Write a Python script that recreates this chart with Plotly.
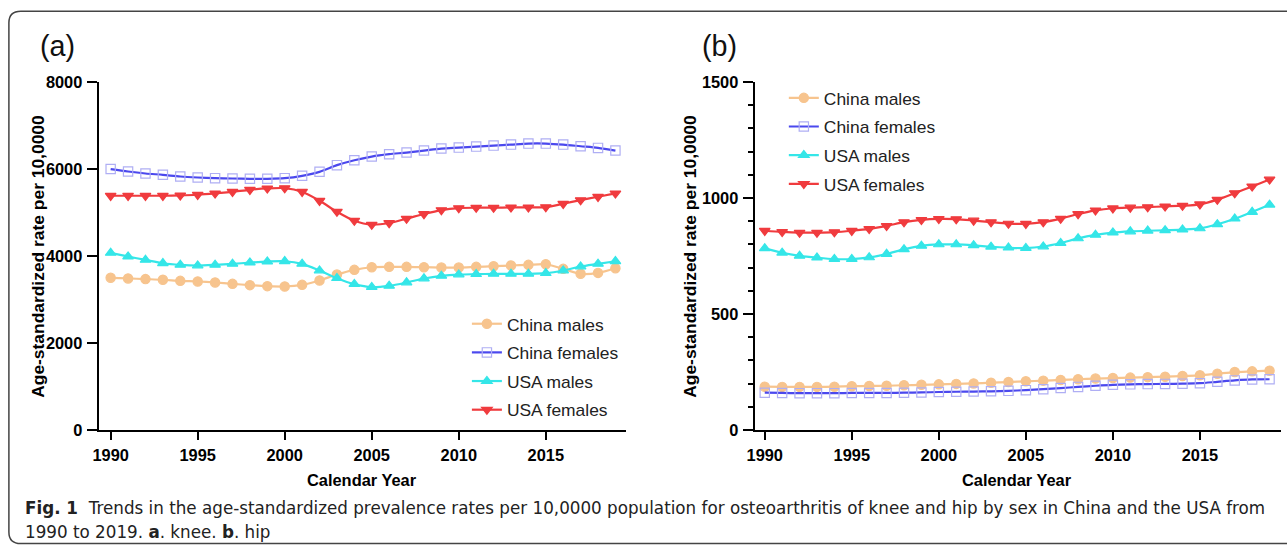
import plotly.graph_objects as go

W, H = 1287, 554
# The photographed page has an 8px body margin and is scaled to the window;
# layout positions below are given in photographed pixels and mapped back.
BODY_M = 8
SX, SY = 1287 / 1303, 554 / 571
FS = 1.025  # font compensation for that scaling

years = list(range(1990, 2020))
series_names = ["China males", "China females", "USA males", "USA females"]

knee_china_males = [3500, 3485, 3470, 3455, 3430, 3415, 3392, 3361, 3331, 3308,
                    3300, 3338, 3438, 3575, 3682, 3743, 3751, 3751, 3743, 3736,
                    3736, 3751, 3766, 3782, 3797, 3812, 3705, 3591, 3613, 3720]
knee_china_females = [6000, 5943, 5898, 5867, 5829, 5806, 5790, 5783, 5775, 5775,
                      5790, 5844, 5936, 6089, 6203, 6287, 6341, 6379, 6425, 6471,
                      6493, 6516, 6539, 6562, 6585, 6585, 6562, 6524, 6486, 6425]
knee_usa_males = [4072, 3988, 3911, 3835, 3797, 3782, 3797, 3820, 3850, 3873,
                  3881, 3820, 3667, 3491, 3354, 3285, 3315, 3392, 3484, 3545,
                  3575, 3583, 3591, 3591, 3591, 3606, 3667, 3759, 3820, 3881]
knee_usa_females = [5386, 5386, 5386, 5386, 5393, 5409, 5439, 5477, 5523, 5554,
                    5561, 5477, 5271, 5019, 4813, 4721, 4759, 4859, 4966, 5057,
                    5103, 5111, 5111, 5118, 5118, 5126, 5202, 5286, 5363, 5439]

hip_china_males = [187, 186, 186, 186, 187, 189, 190, 191, 193, 195,
                   197, 199, 201, 204, 207, 210, 213, 216, 219, 222,
                   224, 226, 228, 230, 233, 236, 243, 250, 253, 256]
hip_china_females = [161, 160, 159, 159, 159, 160, 160, 160, 161, 162,
                     164, 165, 166, 167, 169, 172, 176, 181, 186, 191,
                     195, 197, 198, 199, 200, 202, 208, 214, 218, 219]
hip_usa_males = [783, 764, 751, 743, 737, 737, 744, 759, 779, 794,
                 800, 800, 796, 790, 786, 784, 791, 806, 826, 841,
                 851, 856, 859, 861, 864, 869, 887, 911, 940, 971]
hip_usa_females = [859, 854, 851, 851, 853, 859, 867, 880, 896, 906,
                   910, 909, 903, 896, 890, 889, 896, 911, 931, 947,
                   956, 959, 961, 964, 967, 973, 993, 1021, 1050, 1080]

x_tickvals = [1990, 1995, 2000, 2005, 2010, 2015]
knee_yticks = [0, 2000, 4000, 6000, 8000]
hip_yticks = [0, 500, 1000, 1500]

line_colors = ["#F7C48E", "#4B48EE", "#35E6E8", "#F03B3E"]
marker_colors = ["#F7C48E", "#AFAEF4", "#35E6E8", "#F03B3E"]
marker_symbols = ["circle", "square-open", "triangle-up", "triangle-down"]
marker_sizes = [9.3, 9.3, 9.3, 9.3]

fig = go.Figure()


def px_x(xo):
    return (xo / SX - BODY_M) / W


def px_y(yo):
    return 1 - (yo / SY - BODY_M) / H


panels = [
    ("x", "y", "legend", [knee_china_males, knee_china_females, knee_usa_males, knee_usa_females]),
    ("x2", "y2", "legend2", [hip_china_males, hip_china_females, hip_usa_males, hip_usa_females]),
]

for xa, ya, lg, data in panels:
    for i, (name, vals) in enumerate(zip(series_names, data)):
        fig.add_trace(go.Scatter(
            x=years, y=vals, name=name, xaxis=xa, yaxis=ya, legend=lg,
            legendgroup=f"{lg}_{i}",
            mode="lines+markers",
            line=dict(color=line_colors[i], width=2.2, shape="spline", smoothing=0.8),
            marker=dict(symbol=marker_symbols[i], size=marker_sizes[i], color=marker_colors[i],
                        line=dict(color=marker_colors[i], width=1.2)),
            cliponaxis=False,
        ))

tick_font = dict(family="Liberation Sans, Arial, sans-serif", size=16 * FS, color="black", weight="bold")
axis_common = dict(
    showline=True, linecolor="black", linewidth=2, ticks="outside",
    tickwidth=2, tickcolor="black", showgrid=False, zeroline=False, tickfont=tick_font,
)

fig.update_layout(
    width=W, height=H, margin=dict(l=0, r=0, t=0, b=0),
    paper_bgcolor="white", plot_bgcolor="white",
    font=dict(family="Liberation Sans, Arial, sans-serif", color="black"),
    xaxis=dict(domain=[px_x(98), px_x(622)], range=[1989.31, 2019.6], anchor="y",
               tickvals=x_tickvals, ticklen=8, ticklabelstandoff=1, **axis_common),
    yaxis=dict(domain=[px_y(430), px_y(81)], range=[0, 8000], anchor="x",
               tickvals=knee_yticks, ticklen=10, ticklabelstandoff=1, **axis_common),
    xaxis2=dict(domain=[px_x(750), px_x(1273)], range=[1989.42, 2019.65], anchor="y2",
                tickvals=x_tickvals, ticklen=8, ticklabelstandoff=1, **axis_common),
    yaxis2=dict(domain=[px_y(430), px_y(81)], range=[0, 1500], anchor="x2",
                tickvals=hip_yticks, ticklen=10, ticklabelstandoff=1,
                minor=dict(dtick=100, ticks="outside", ticklen=5, tickwidth=1.5, tickcolor="black"),
                **axis_common),
    legend=dict(x=px_x(464), y=px_y(305.5), xanchor="left", yanchor="top",
                font=dict(size=17 * FS, color="#222"), tracegroupgap=3,
                bgcolor="rgba(0,0,0,0)", itemwidth=30),
    legend2=dict(x=px_x(779), y=px_y(79), xanchor="left", yanchor="top",
                 font=dict(size=17 * FS, color="#222"), tracegroupgap=3,
                 bgcolor="rgba(0,0,0,0)", itemwidth=30),
)

ylab = "Age-standardized rate per 10,0000"
cap_font = dict(size=16.75, family="DejaVu Sans, sans-serif", color="#222")
ann = [
    dict(text="(a)", x=px_x(37.5), y=px_y(45), xanchor="left", yanchor="middle",
         font=dict(size=28 * FS, color="#111")),
    dict(text="(b)", x=px_x(696), y=px_y(45), xanchor="left", yanchor="middle",
         font=dict(size=28 * FS, color="#111")),
    dict(text=ylab, x=px_x(37), y=px_y(256), textangle=-90, xanchor="center", yanchor="middle",
         font=dict(size=17 * FS, weight="bold", color="black")),
    dict(text=ylab, x=px_x(685), y=px_y(256), textangle=-90, xanchor="center", yanchor="middle",
         font=dict(size=17 * FS, weight="bold", color="black")),
    dict(text="Calendar Year", x=px_x(360), y=px_y(480), xanchor="center", yanchor="middle",
         font=dict(size=16 * FS, weight="bold", color="black")),
    dict(text="Calendar Year", x=px_x(1011), y=px_y(480), xanchor="center", yanchor="middle",
         font=dict(size=16 * FS, weight="bold", color="black")),
    dict(text="<b>Fig. 1</b>  Trends in the age-standardized prevalence rates per 10,0000 population for osteoarthritis of knee and hip by sex in China and the USA from",
         x=px_x(23), y=px_y(508), xanchor="left", yanchor="middle", font=cap_font),
    dict(text="1990 to 2019. <b>a</b>. knee. <b>b</b>. hip",
         x=px_x(23), y=px_y(532), xanchor="left", yanchor="middle", font=cap_font),
]
for a in ann:
    a.update(xref="paper", yref="paper", showarrow=False)
fig.update_layout(annotations=ann)

# rounded frame around the figure
x0, y0 = 0.9 / W, px_y(10)
x1, y1 = 1.03, 1 - 552.5 / H
rx, ry = 12 / W, 12 / H
path = (f"M {x0},{y0 - ry} Q {x0},{y0} {x0 + rx},{y0} L {x1},{y0} "
        f"M {x0},{y0 - ry} L {x0},{y1 + ry} Q {x0},{y1} {x0 + rx},{y1} L {x1},{y1}")
fig.add_shape(type="path", path=path, xref="paper", yref="paper",
              line=dict(color="#444", width=1.5))

fig.write_html("out.html")
